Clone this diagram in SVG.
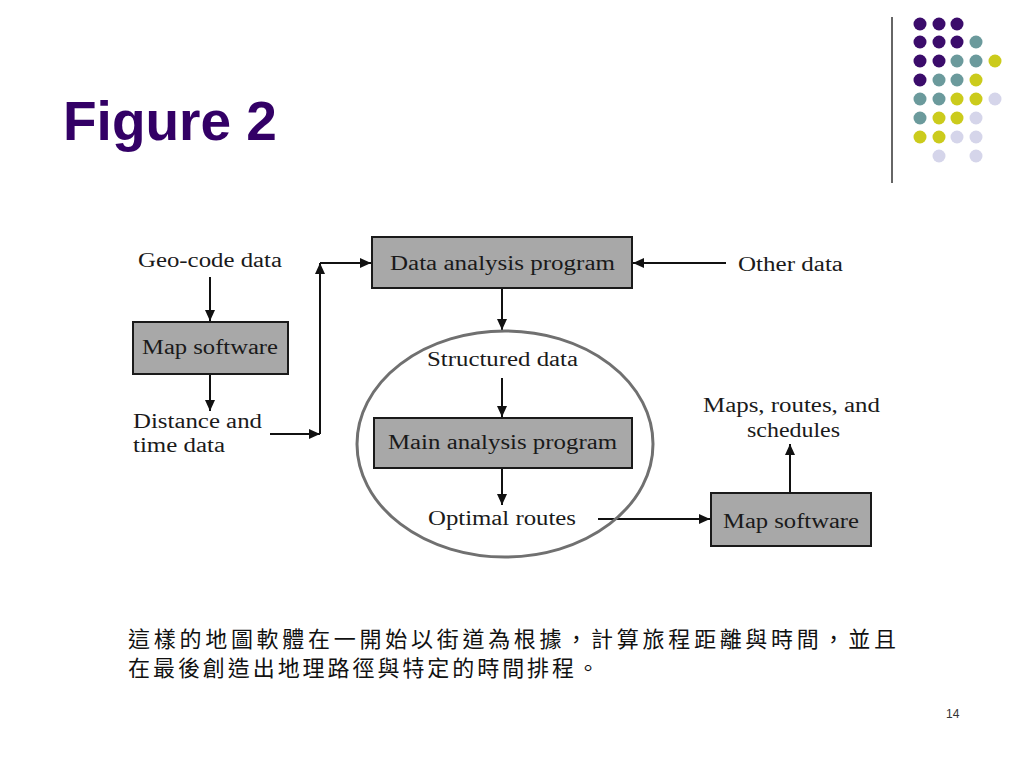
<svg xmlns="http://www.w3.org/2000/svg" width="1024" height="768" viewBox="0 0 1024 768">
<style>
.box{fill:#a8a8a8;stroke:#1a1a1a;stroke-width:2}
.lbl{font-family:"Liberation Serif","Times New Roman",serif;font-size:20px;fill:#1a1a1a}
.conn{stroke:#111;stroke-width:2;fill:none;marker-end:url(#ah)}
.P{fill:#3b0c6b}.T{fill:#6b9a9c}.Y{fill:#cbcb1c}.L{fill:#d5d5ea}
</style>
<defs>
<marker id="ah" markerUnits="userSpaceOnUse" markerWidth="12" markerHeight="10" refX="11" refY="5" orient="auto">
<path d="M0,0 L11,5 L0,10 z" fill="#111"/>
</marker>
</defs>
<rect width="1024" height="768" fill="#ffffff"/>
<g id="decor">
<line x1="892" y1="17" x2="892" y2="183" stroke="#333" stroke-width="1.5"/>
<g id="dots">
<circle class="P" cx="920" cy="24" r="6.5"/><circle class="P" cx="939" cy="24" r="6.5"/><circle class="P" cx="957" cy="24" r="6.5"/>
<circle class="P" cx="920" cy="42" r="6.5"/><circle class="P" cx="939" cy="42" r="6.5"/><circle class="P" cx="957" cy="42" r="6.5"/><circle class="T" cx="976" cy="42" r="6.5"/>
<circle class="P" cx="920" cy="61" r="6.5"/><circle class="P" cx="939" cy="61" r="6.5"/><circle class="T" cx="957" cy="61" r="6.5"/><circle class="T" cx="976" cy="61" r="6.5"/><circle class="Y" cx="995" cy="61" r="6.5"/>
<circle class="P" cx="920" cy="80" r="6.5"/><circle class="T" cx="939" cy="80" r="6.5"/><circle class="T" cx="957" cy="80" r="6.5"/><circle class="Y" cx="976" cy="80" r="6.5"/>
<circle class="T" cx="920" cy="99" r="6.5"/><circle class="T" cx="939" cy="99" r="6.5"/><circle class="Y" cx="957" cy="99" r="6.5"/><circle class="Y" cx="976" cy="99" r="6.5"/><circle class="L" cx="995" cy="99" r="6.5"/>
<circle class="T" cx="920" cy="118" r="6.5"/><circle class="Y" cx="939" cy="118" r="6.5"/><circle class="Y" cx="957" cy="118" r="6.5"/><circle class="L" cx="976" cy="118" r="6.5"/>
<circle class="Y" cx="920" cy="137" r="6.5"/><circle class="Y" cx="939" cy="137" r="6.5"/><circle class="L" cx="957" cy="137" r="6.5"/><circle class="L" cx="976" cy="137" r="6.5"/>
<circle class="L" cx="939" cy="156" r="6.5"/><circle class="L" cx="976" cy="156" r="6.5"/>
</g>
</g>
<text id="title" x="63" y="140" font-family="'Liberation Sans',Arial,sans-serif" font-weight="bold" font-size="55" fill="#330066">Figure 2</text>

<g id="connectors">
<path class="conn" d="M210,277 L210,321"/>
<path class="conn" d="M210,374 L210,411"/>
<path class="conn" d="M270,434 L320,434"/>
<path class="conn" d="M320,434 L320,263"/>
<path class="conn" d="M320,263 L371,263"/>
<path class="conn" d="M726,263 L633,263"/>
<path class="conn" d="M502,288 L502,330"/>
<path class="conn" d="M502,378 L502,417"/>
<path class="conn" d="M502,468 L502,505"/>
<path class="conn" d="M598,519 L710,519"/>
<path class="conn" d="M790,493 L790,444"/>
</g>

<g id="geocode"><text class="lbl" x="138" y="267" textLength="144" lengthAdjust="spacingAndGlyphs">Geo-code data</text></g>
<g id="mapsoft1">
<rect class="box" x="133" y="322" width="155" height="52"/>
<text class="lbl" x="142" y="354" textLength="136" lengthAdjust="spacingAndGlyphs">Map software</text>
</g>
<g id="distance">
<text class="lbl" x="133" y="428" textLength="129" lengthAdjust="spacingAndGlyphs">Distance and</text>
<text class="lbl" x="133" y="452" textLength="92" lengthAdjust="spacingAndGlyphs">time data</text>
</g>
<g id="dataanalysis">
<rect class="box" x="372" y="237" width="260" height="51"/>
<text class="lbl" x="390" y="270" textLength="225" lengthAdjust="spacingAndGlyphs">Data analysis program</text>
</g>
<g id="otherdata"><text class="lbl" x="738" y="271" textLength="105" lengthAdjust="spacingAndGlyphs">Other data</text></g>
<g id="ellipse">
<ellipse cx="505" cy="444" rx="148" ry="113" fill="none" stroke="#707070" stroke-width="3"/>
<text class="lbl" x="427" y="366" textLength="151" lengthAdjust="spacingAndGlyphs">Structured data</text>
</g>
<g id="mainanalysis">
<rect class="box" x="374" y="418" width="258" height="50"/>
<text class="lbl" x="388" y="449" textLength="229" lengthAdjust="spacingAndGlyphs">Main analysis program</text>
</g>
<g id="optimal"><text class="lbl" x="428" y="525" textLength="148" lengthAdjust="spacingAndGlyphs">Optimal routes</text></g>
<g id="mapsoft2">
<rect class="box" x="711" y="493" width="160" height="53"/>
<text class="lbl" x="723" y="528" textLength="136" lengthAdjust="spacingAndGlyphs">Map software</text>
</g>
<g id="outputs">
<text class="lbl" x="703" y="412" textLength="177" lengthAdjust="spacingAndGlyphs">Maps, routes, and</text>
<text class="lbl" x="747" y="437" textLength="93" lengthAdjust="spacingAndGlyphs">schedules</text>
</g>

<g id="caption" font-family="'Noto Sans CJK TC','Noto Sans CJK SC',sans-serif" font-size="22" fill="#111">
<text x="128" y="647" textLength="768" lengthAdjust="spacing">這樣的地圖軟體在一開始以街道為根據，計算旅程距離與時間，並且</text>
<text x="128" y="676" textLength="471" lengthAdjust="spacing">在最後創造出地理路徑與特定的時間排程。</text>
</g>
<text id="pagenum" x="946" y="718" font-family="'Liberation Sans',Arial,sans-serif" font-size="12" fill="#333">14</text>
</svg>
